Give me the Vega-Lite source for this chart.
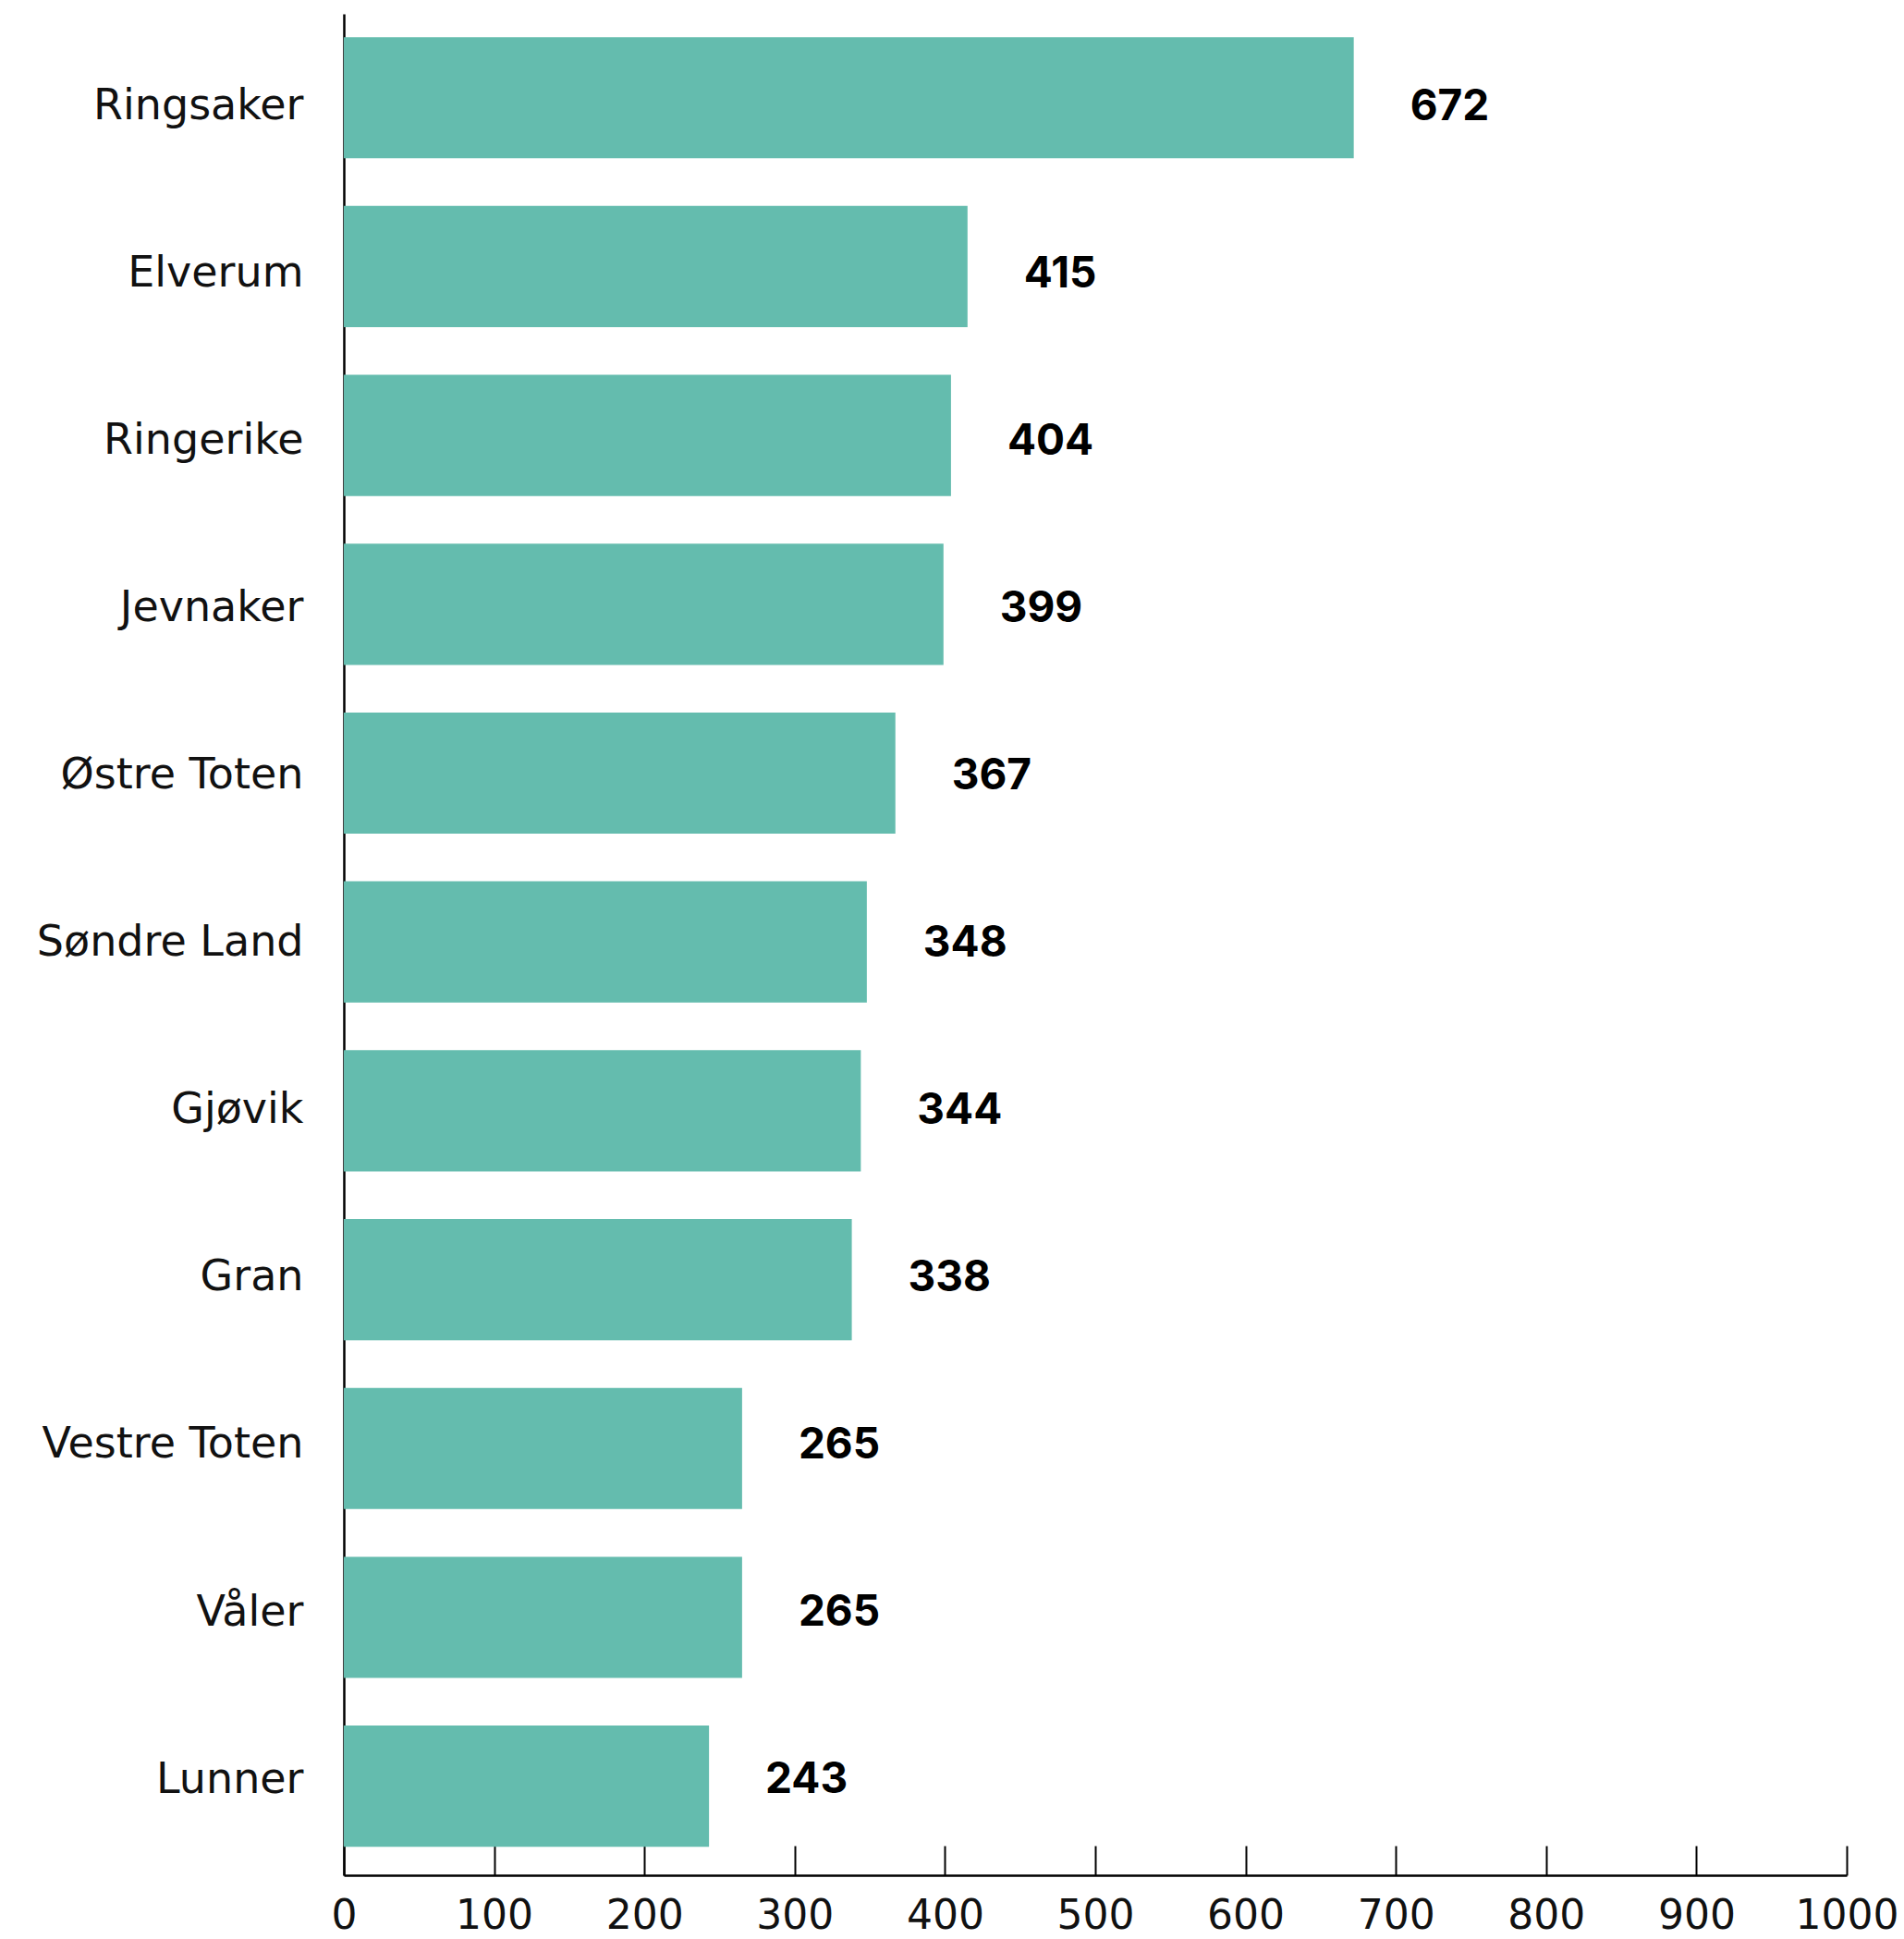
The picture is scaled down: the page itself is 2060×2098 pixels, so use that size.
{
  "$schema": "https://vega.github.io/schema/vega-lite/v6.json",
  "autosize": {"type": "none"},
  "padding": {"left": 372, "top": 15, "right": 62, "bottom": 69},
  "width": 1626,
  "height": 2014,
  "background": "white",
  "config": {"view": {"stroke": null}, "font": "Inter"},
  "data": {"values": [
    {"kommune": "Ringsaker", "antall": 672},
    {"kommune": "Elverum", "antall": 415},
    {"kommune": "Ringerike", "antall": 404},
    {"kommune": "Jevnaker", "antall": 399},
    {"kommune": "Østre Toten", "antall": 367},
    {"kommune": "Søndre Land", "antall": 348},
    {"kommune": "Gjøvik", "antall": 344},
    {"kommune": "Gran", "antall": 338},
    {"kommune": "Vestre Toten", "antall": 265},
    {"kommune": "Våler", "antall": 265},
    {"kommune": "Lunner", "antall": 243}
  ]},
  "encoding": {
    "x": {
      "field": "antall", "type": "quantitative", "title": null,
      "scale": {"domain": [0, 1000], "nice": false},
      "axis": {"values": [0,100,200,300,400,500,600,700,800,900,1000], "format": "d", "grid": false, "domainColor": "#000000", "domainWidth": 2.5, "tickColor": "#000000", "tickWidth": 2, "tickSize": -32, "labelFontSize": 44, "labelFont": "DejaVu Sans", "labelColor": "#111111", "labelPadding": 54, "labelFlush": false, "labelOverlap": false, "labelLimit": 0}
    }
  },
  "layer": [
    {"mark": {"type": "bar", "color": "#64BCAE"},
     "encoding": {
       "y": {"field": "kommune", "type": "nominal", "sort": null, "title": null,
             "scale": {"paddingInner": 0.282, "paddingOuter": 0.153, "align": 0.45},
             "axis": null}
     }},
    {"mark": {"type": "text", "align": "left", "baseline": "middle", "dx": 61, "dy": 9, "fontSize": 46, "fontWeight": "bold", "font": "Inter", "color": "#000000"},
     "encoding": {
       "y": {"field": "kommune", "type": "nominal", "sort": null, "title": null,
             "scale": {"type": "point", "padding": 0.562, "align": 0.45},
             "axis": {"ticks": false, "domainColor": "#000000", "domainWidth": 2.5, "labelFontSize": 46, "labelFont": "DejaVu Sans", "labelColor": "#111111", "labelPadding": 44, "labelOffset": 8, "labelLimit": 0, "labelFontWeight": 400}},
       "text": {"field": "antall", "type": "quantitative"}
     }}
  ],
  "resolve": {"scale": {"y": "independent"}}
}
